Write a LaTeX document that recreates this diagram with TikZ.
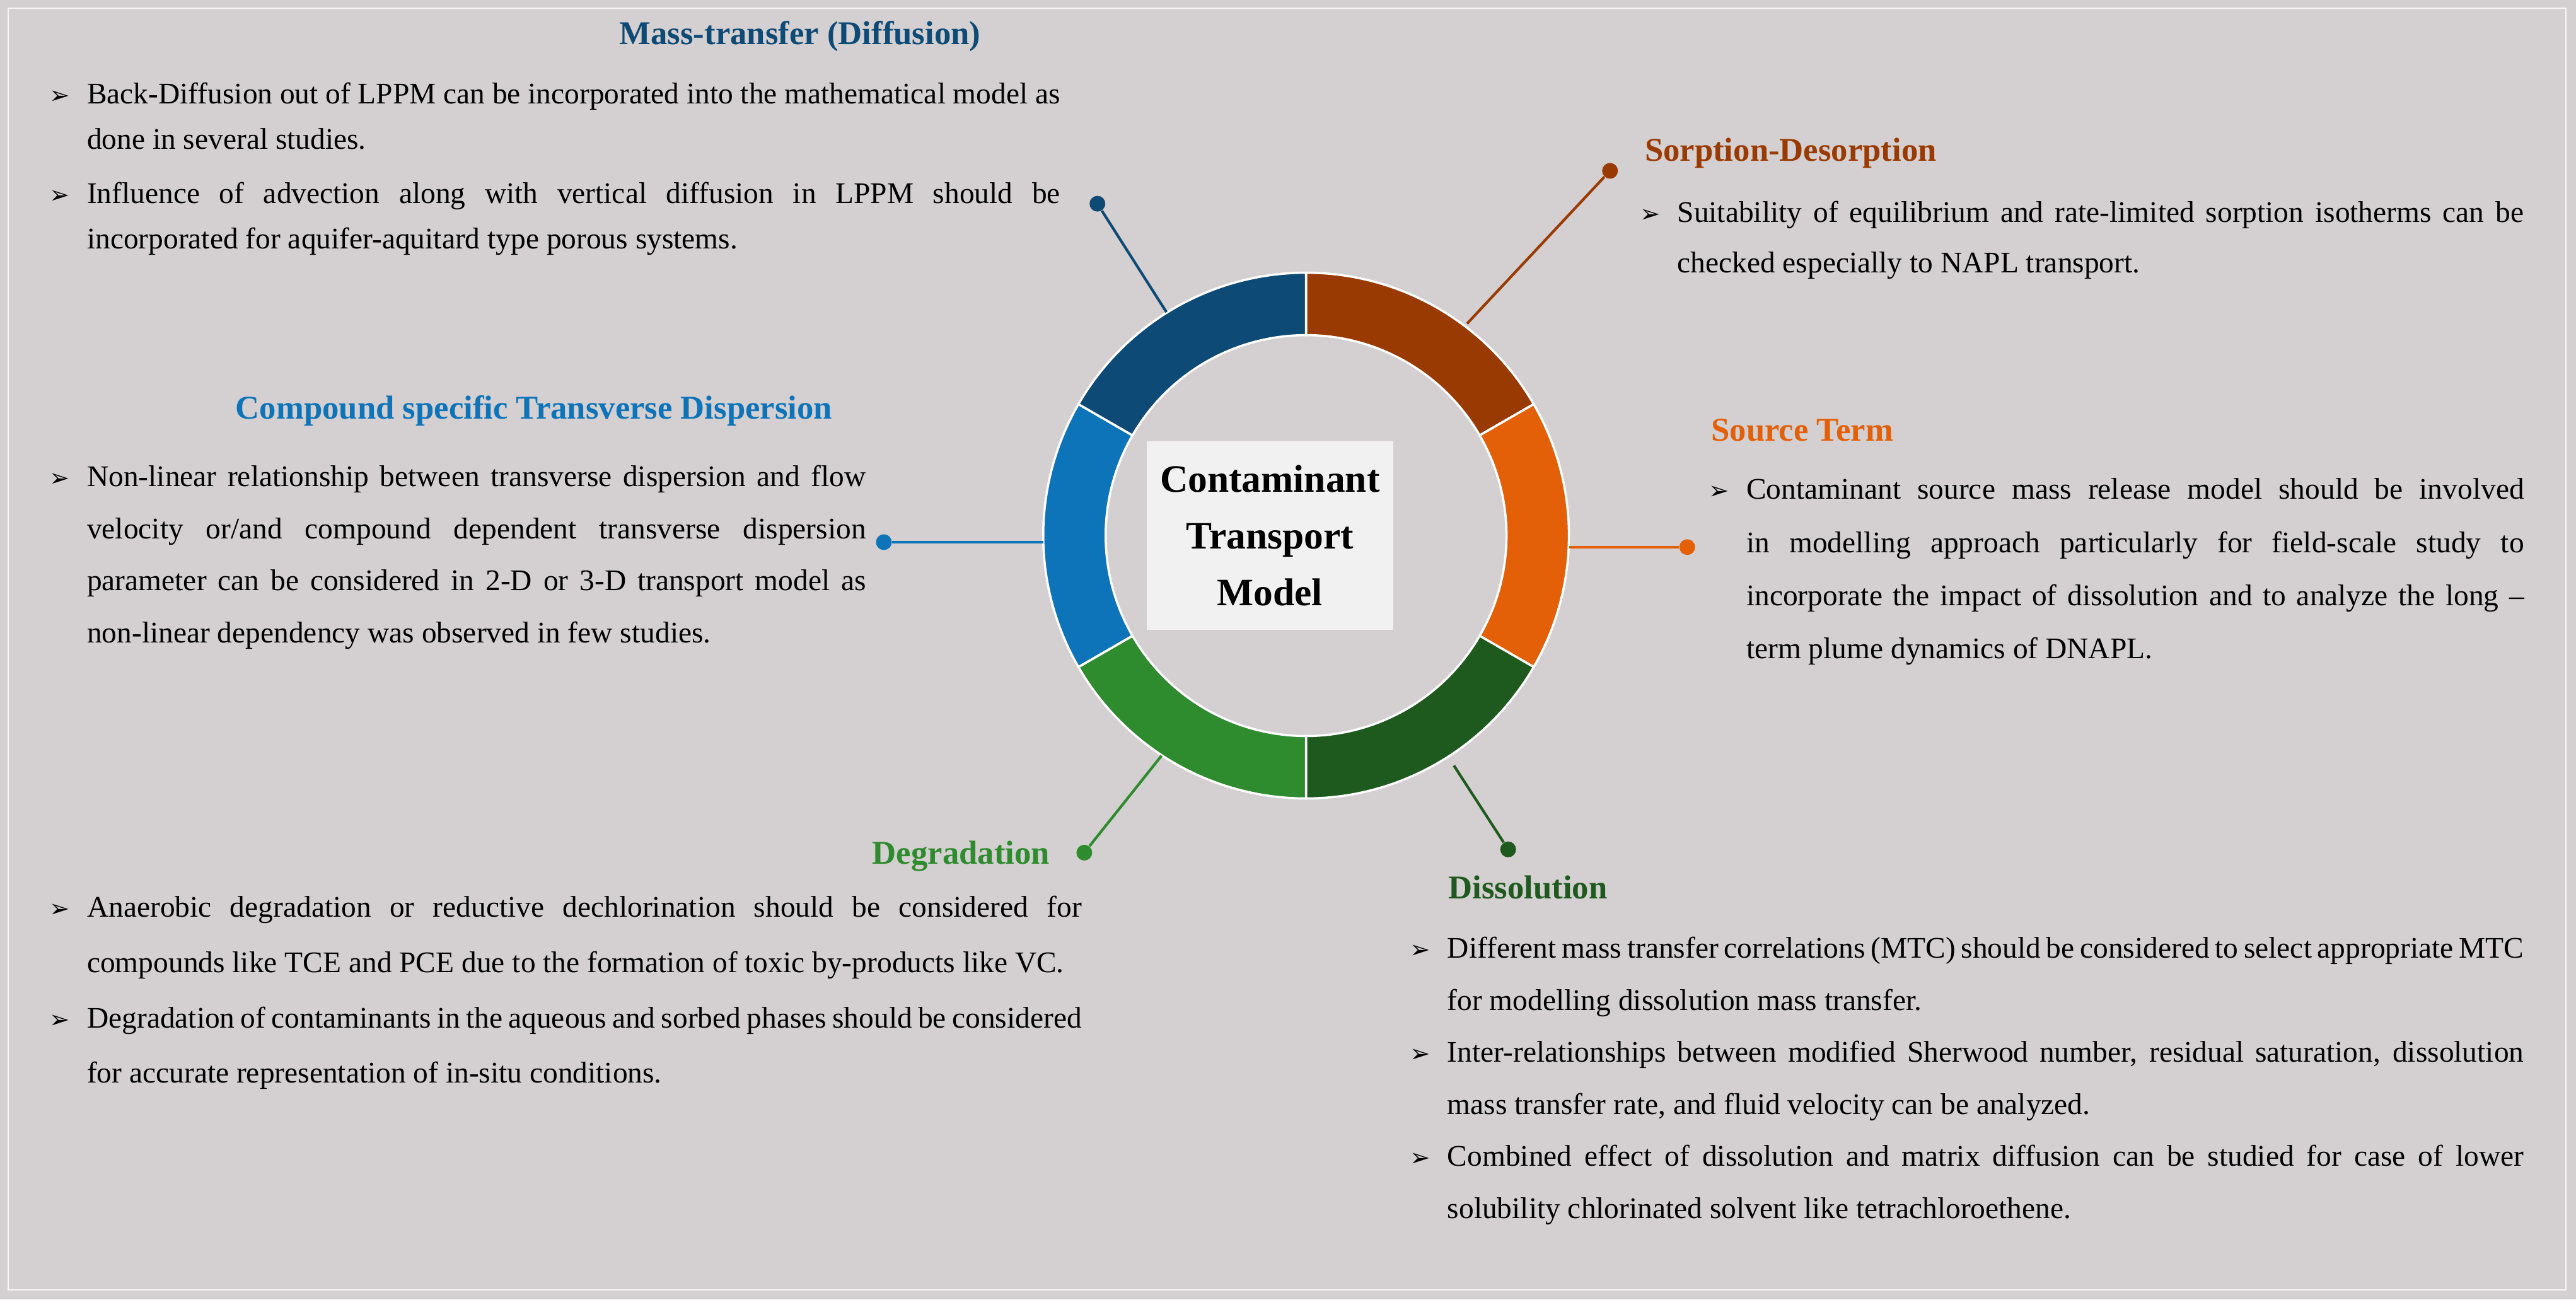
\documentclass[tikz,border=0pt]{standalone}
\usetikzlibrary{calc}
\usepackage{fontspec}
\setmainfont{Liberation Serif}
\newfontfamily\djv{DejaVu Sans}
\definecolor{bg}{HTML}{D4CFD0}
\definecolor{navy}{HTML}{0E4A76}
\definecolor{brn}{HTML}{9A3A03}
\definecolor{org}{HTML}{E36009}
\definecolor{dgr}{HTML}{1E5A1E}
\definecolor{grn}{HTML}{2E8B2E}
\definecolor{blu}{HTML}{0D74BA}
\newcommand{\bul}[1]{\noindent\hangindent=1.25em\hangafter=1\makebox[1.25em][l]{\djv\fontsize{11}{11}\selectfont ➢}#1\par}
\begin{document}
\begin{tikzpicture}[x=0.02606cm,y=-0.02606cm,
  ttl/.style={font=\fontsize{15}{18}\selectfont\bfseries},
  body/.style={anchor=north west,inner sep=0pt,align=justify,font=\fontsize{13.5}{21}\selectfont},
  dot/.style={circle,fill,inner sep=0pt,minimum size=0.25cm},
  lnk/.style={line width=1.2pt}]
\fill[bg] (0,0) rectangle (1568,791);
\draw[white!80!bg,line width=0.6pt] (5,5) rectangle (1562,785);
% ring
\coordinate (c) at (795,326);
\foreach \a/\b/\col in {-90/-30/brn,-30/30/org,30/90/dgr,90/150/grn,150/210/blu,210/270/navy}{
  \filldraw[fill=\col,draw=white,line width=1pt] ($(c)+(\a:160)$) arc (\a:\b:160) -- ($(c)+(\b:122)$) arc (\b:\a:122) -- cycle;
}
\node[fill=white!70!bg,minimum width=150*0.02606cm,minimum height=115*0.02606cm,align=center,
  font=\fontsize{17.5}{25.5}\selectfont\bfseries] (ctr) at (773,326) {Contaminant\\Transport\\Model};
% connectors
\node[dot,navy] (dn) at (668,124) {}; \coordinate (rn) at (710,190);
\draw[lnk,navy] (rn) -- (dn);
\node[dot,brn] (db) at (980,104) {}; \coordinate (rb) at (893,197);
\draw[lnk,brn] (rb) -- (db);
\node[dot,org] (do) at (1027,333) {}; \coordinate (ro) at (955,333);
\draw[lnk,org] (ro) -- (do);
\node[dot,dgr] (dd) at (918,517) {}; \coordinate (rd) at (885,466);
\draw[lnk,dgr] (rd) -- (dd);
\node[dot,grn] (dg) at (660,519) {}; \coordinate (rg) at (707,460);
\draw[lnk,grn] (rg) -- (dg);
\node[dot,blu] (dc) at (538,330) {}; \coordinate (rc) at (635,330);
\draw[lnk,blu] (rc) -- (dc);
% titles
\node[ttl,navy] (t1) at (487,22) {Mass-transfer (Diffusion)};
\node[ttl,brn] (t2) at (1090,93) {Sorption-Desorption};
\node[ttl,org] (t3) at (1097,262) {Source Term};
\node[ttl,dgr] (t4) at (930,540) {Dissolution};
\node[ttl,grn] (t5) at (585,521) {Degradation};
\node[ttl,blu] (t6) at (325,250) {Compound specific Transverse Dispersion};
% bodies
\node[body,text width=16.03cm] (b1) at (30,50) {\fontsize{13.5}{20.5}\selectfont\parskip=4pt\hyphenpenalty=10000
\bul{Back-Diffusion out of LPPM can be incorporated into the mathematical model as done in several studies.}
\bul{Influence of advection along with vertical diffusion in LPPM should be incorporated for aquifer-aquitard type porous systems.}};
\node[body,text width=14.02cm] (b2) at (998,122) {\fontsize{13.5}{23}\selectfont\hyphenpenalty=10000
\bul{Suitability of equilibrium and rate-limited sorption isotherms can be checked especially to NAPL transport.}};
\node[body,text width=12.93cm] (b3) at (1040,291) {\fontsize{13.5}{24}\selectfont\hyphenpenalty=10000
\bul{Contaminant source mass release model should be involved in modelling approach particularly for field-scale study to incorporate the impact of dissolution and to analyze the long -- term plume dynamics of DNAPL.}};
\node[body,text width=12.95cm] (b6) at (30,283) {\fontsize{13.5}{23.5}\selectfont\hyphenpenalty=10000
\bul{Non-linear relationship between transverse dispersion and flow velocity or/and compound dependent transverse dispersion parameter can be considered in 2-D or 3-D transport model as non-linear dependency was observed in few studies.}};
\node[body,text width=16.37cm] (b5) at (30,545) {\fontsize{13.5}{25}\selectfont\parskip=0pt\hyphenpenalty=10000
\bul{Anaerobic degradation or reductive dechlorination should be considered for compounds like TCE and PCE due to the formation of toxic by-products like VC.}
\bul{Degradation of contaminants in the aqueous and sorbed phases should be considered for accurate representation of in-situ conditions.}};
\node[body,text width=17.67cm] (b4) at (858,570) {\fontsize{13.5}{23.5}\selectfont\parskip=0pt\hyphenpenalty=10000
\bul{Different mass transfer correlations (MTC) should be considered to select appropriate MTC for modelling dissolution mass transfer.}
\bul{Inter-relationships between modified Sherwood number, residual saturation, dissolution mass transfer rate, and fluid velocity can be analyzed.}
\bul{Combined effect of dissolution and matrix diffusion can be studied for case of lower solubility chlorinated solvent like tetrachloroethene.}};
\end{tikzpicture}
\end{document}
